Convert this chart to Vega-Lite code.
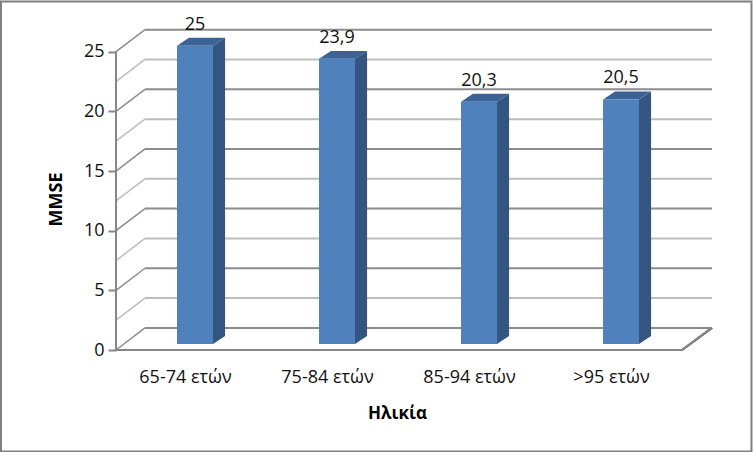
{
  "$schema": "https://vega.github.io/schema/vega-lite/v6.json",
  "width": 596,
  "height": 320,
  "autosize": {"type": "none"},
  "padding": {"left": 116, "top": 30, "right": 41, "bottom": 102},
  "background": "white",
  "config": {"view": {"stroke": null}, "font": "Open Sans"},
  "datasets": {
    "bars": [
      {"age": "65-74 ετών", "slot": 1, "mmse": 25, "label": "25"},
      {"age": "75-84 ετών", "slot": 2, "mmse": 23.9, "label": "23,9"},
      {"age": "85-94 ετών", "slot": 3, "mmse": 20.3, "label": "20,3"},
      {"age": ">95 ετών", "slot": 4, "mmse": 20.5, "label": "20,5"}
    ],
    "grid": [
      {"v": 0, "back": 1.85, "kind": "major"},
      {"v": 2.5, "back": 4.35, "kind": "minor"},
      {"v": 5, "back": 6.85, "kind": "major"},
      {"v": 7.5, "back": 9.35, "kind": "minor"},
      {"v": 10, "back": 11.85, "kind": "major"},
      {"v": 12.5, "back": 14.35, "kind": "minor"},
      {"v": 15, "back": 16.85, "kind": "major"},
      {"v": 17.5, "back": 19.35, "kind": "minor"},
      {"v": 20, "back": 21.85, "kind": "major"},
      {"v": 22.5, "back": 24.35, "kind": "minor"},
      {"v": 25, "back": 26.85, "kind": "major"}
    ],
    "side": [
      {"age": "65-74 ετών", "x": 1.183, "top": 25.5, "bottom": 0.5},
      {"age": "65-74 ετών", "x": 1.268, "top": 26.17, "bottom": 1.17},
      {"age": "75-84 ετών", "x": 2.183, "top": 24.4, "bottom": 0.5},
      {"age": "75-84 ετών", "x": 2.268, "top": 25.07, "bottom": 1.17},
      {"age": "85-94 ετών", "x": 3.183, "top": 20.8, "bottom": 0.5},
      {"age": "85-94 ετών", "x": 3.268, "top": 21.47, "bottom": 1.17},
      {"age": ">95 ετών", "x": 4.183, "top": 21, "bottom": 0.5},
      {"age": ">95 ετών", "x": 4.268, "top": 21.67, "bottom": 1.17}
    ],
    "lid": [
      {"age": "65-74 ετών", "x": 0.93, "top": 25.5, "bottom": 25.5},
      {"age": "65-74 ετών", "x": 1.014, "top": 26.17, "bottom": 25.5},
      {"age": "65-74 ετών", "x": 1.183, "top": 26.17, "bottom": 25.5},
      {"age": "65-74 ετών", "x": 1.268, "top": 26.17, "bottom": 26.17},
      {"age": "75-84 ετών", "x": 1.93, "top": 24.4, "bottom": 24.4},
      {"age": "75-84 ετών", "x": 2.014, "top": 25.07, "bottom": 24.4},
      {"age": "75-84 ετών", "x": 2.183, "top": 25.07, "bottom": 24.4},
      {"age": "75-84 ετών", "x": 2.268, "top": 25.07, "bottom": 25.07},
      {"age": "85-94 ετών", "x": 2.93, "top": 20.8, "bottom": 20.8},
      {"age": "85-94 ετών", "x": 3.014, "top": 21.47, "bottom": 20.8},
      {"age": "85-94 ετών", "x": 3.183, "top": 21.47, "bottom": 20.8},
      {"age": "85-94 ετών", "x": 3.268, "top": 21.47, "bottom": 21.47},
      {"age": ">95 ετών", "x": 3.93, "top": 21, "bottom": 21},
      {"age": ">95 ετών", "x": 4.014, "top": 21.67, "bottom": 21},
      {"age": ">95 ετών", "x": 4.183, "top": 21.67, "bottom": 21},
      {"age": ">95 ετών", "x": 4.268, "top": 21.67, "bottom": 21.67}
    ]
  },
  "data": {"name": "bars"},
  "layer": [
    {
      "data": {"values": [{"frame": "outer"}]},
      "mark": {"type": "rect", "fill": "transparent", "stroke": "#7f7f7f", "strokeWidth": 2, "clip": false},
      "encoding": {
        "x": {"datum": -0.31, "type": "quantitative"},
        "x2": {"datum": 4.975},
        "y": {"datum": -8.5, "type": "quantitative"},
        "y2": {"datum": 29.2}
      }
    },
    {
      "data": {"name": "grid"},
      "mark": {"type": "rule", "strokeWidth": 2},
      "encoding": {
        "x": {"datum": 0.704, "type": "quantitative"},
        "x2": {"datum": 4.697},
        "y": {"field": "back", "type": "quantitative"},
        "color": {"field": "kind", "type": "nominal", "scale": {"domain": ["major", "minor"], "range": ["#8c8c8c", "#bdbdbd"]}, "legend": null}
      }
    },
    {
      "data": {"name": "grid"},
      "mark": {"type": "rule", "strokeWidth": 1.5},
      "encoding": {
        "x": {"datum": 0.5, "type": "quantitative"},
        "x2": {"datum": 0.704},
        "y": {"field": "v", "type": "quantitative"},
        "y2": {"field": "back"},
        "color": {"field": "kind", "type": "nominal", "legend": null}
      }
    },
    {
      "mark": {"type": "rule", "color": "#868686", "strokeWidth": 2},
      "encoding": {"x": {"datum": 0.5, "type": "quantitative"}, "y": {"datum": 0, "type": "quantitative"}, "y2": {"datum": 25}}
    },
    {
      "mark": {"type": "rule", "color": "#868686", "strokeWidth": 2},
      "encoding": {"x": {"datum": 0.5, "type": "quantitative"}, "x2": {"datum": 4.486}, "y": {"datum": 0, "type": "quantitative"}}
    },
    {
      "mark": {"type": "rule", "color": "#868686", "strokeWidth": 2},
      "encoding": {"x": {"datum": 4.486, "type": "quantitative"}, "x2": {"datum": 4.697}, "y": {"datum": 0, "type": "quantitative"}, "y2": {"datum": 1.85}}
    },
    {
      "data": {"name": "side"},
      "mark": {"type": "area", "color": "#34557f"},
      "encoding": {
        "x": {"field": "x", "type": "quantitative"},
        "y": {"field": "top", "type": "quantitative"},
        "y2": {"field": "bottom"},
        "detail": {"field": "age"}
      }
    },
    {
      "data": {"name": "lid"},
      "mark": {"type": "area", "color": "#3a6295"},
      "encoding": {
        "x": {"field": "x", "type": "quantitative"},
        "y": {"field": "top", "type": "quantitative"},
        "y2": {"field": "bottom"},
        "detail": {"field": "age"}
      }
    },
    {
      "mark": {"type": "bar", "orient": "vertical", "size": 36, "color": "#4f81bd", "xOffset": 8, "yOffset": -6},
      "encoding": {
        "x": {
          "field": "slot",
          "type": "quantitative",
          "scale": {"domain": [0.5, 4.697], "nice": false, "zero": false, "padding": 0},
          "axis": {
            "values": [1, 2, 3, 4],
            "labelExpr": "['', '65-74 ετών', '75-84 ετών', '85-94 ετών', '>95 ετών'][datum.value]",
            "grid": false,
            "domain": false,
            "ticks": false,
            "labelFontSize": 18,
            "labelColor": "#111111",
            "labelPadding": 18,
            "labelOffset": -2,
            "labelOverlap": false,
            "labelFlush": false,
            "title": "Ηλικία",
            "titleFontSize": 17,
            "titleFontWeight": "bold",
            "titleColor": "black",
            "titleX": 281,
            "titleY": 55
          }
        },
        "y": {
          "field": "mmse",
          "type": "quantitative",
          "scale": {"domain": [0, 26.82], "nice": false},
          "axis": {
            "values": [0, 5, 10, 15, 20, 25],
            "grid": false,
            "domain": false,
            "tickColor": "#868686",
            "tickWidth": 2,
            "tickSize": 8,
            "labelFontSize": 18,
            "labelColor": "#111111",
            "labelPadding": 4,
            "title": "MMSE",
            "titleFontSize": 18,
            "titleFontWeight": "bold",
            "titleColor": "black",
            "titleX": -51,
            "titleY": 169
          }
        }
      }
    },
    {
      "mark": {"type": "text", "fontSize": 18, "color": "#111111", "dx": 8, "dy": -27},
      "encoding": {
        "x": {"field": "slot", "type": "quantitative"},
        "y": {"field": "mmse", "type": "quantitative"},
        "text": {"field": "label"}
      }
    }
  ]
}
